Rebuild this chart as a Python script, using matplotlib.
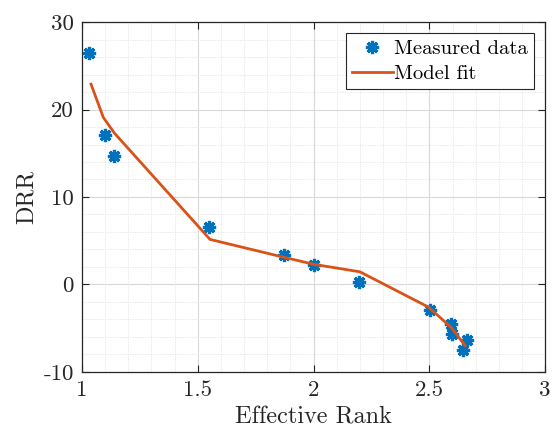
import numpy as np
import matplotlib
matplotlib.use("Agg")
import matplotlib.pyplot as plt
from matplotlib.ticker import MultipleLocator

plt.rcParams["font.family"] = ["cmr10", "DejaVu Serif"]
plt.rcParams["axes.unicode_minus"] = False
plt.rcParams["axes.formatter.use_mathtext"] = True

# measured points (effective rank vs DRR)
rank_meas = [1.03, 1.099, 1.138, 1.549, 1.873, 2.002, 2.195, 2.503, 2.594, 2.598, 2.647, 2.664]
drr_meas = [26.5, 17.1, 14.7, 6.55, 3.37, 2.25, 0.32, -2.9, -4.55, -5.7, -7.5, -6.4]

# model fit polyline
rank_fit = [1.039, 1.092, 1.14, 1.553, 1.873, 2.002, 2.2, 2.497, 2.594, 2.655]
drr_fit = [22.9, 19.1, 17.3, 5.15, 3.1, 2.3, 1.45, -2.6, -4.9, -7.0]

blue = "#0072BD"
orange = "#D95319"

fig = plt.figure(figsize=(5.54, 4.32), dpi=100)
ax = fig.add_axes([0.148, 0.139, 0.836, 0.810])

ax.plot(rank_meas, drr_meas, linestyle="", marker=(8, 2, 0), markersize=9.5,
        markeredgewidth=2.3, color=blue, label="Measured data", zorder=3)
ax.plot(rank_fit, drr_fit, color=orange, linewidth=2, label="Model fit", zorder=4)

ax.set_xlim(1, 3)
ax.set_ylim(-10, 30)
ax.xaxis.set_minor_locator(MultipleLocator(0.1))
ax.yaxis.set_minor_locator(MultipleLocator(2))
ax.set_xticks([1, 1.5, 2, 2.5, 3])
ax.set_xticklabels(["1", "1.5", "2", "2.5", "3"])
ax.set_yticks([-10, 0, 10, 20, 30])
ax.set_yticklabels(["-10", "0", "10", "20", "30"])

ax.grid(which="major", color="#d9d9d9", linewidth=0.8)
ax.grid(which="minor", color="#e3e3e3", linewidth=0.6, linestyle=(0, (1.5, 1.5)))
ax.set_axisbelow(True)

ax.tick_params(which="both", direction="in", top=True, right=True, colors="#262626",
               labelsize=16.5, pad=6)
ax.tick_params(which="major", length=5, width=0.8)
ax.tick_params(which="minor", length=0)
for s in ax.spines.values():
    s.set_color("#262626")
    s.set_linewidth(0.9)

ax.set_xlabel("Effective Rank", fontsize=17.5, color="#262626", labelpad=5)
ax.set_ylabel("DRR", fontsize=17.5, color="#262626", labelpad=4)

leg = ax.legend(loc="upper right", fontsize=14.8, frameon=True, fancybox=False,
                edgecolor="#262626", framealpha=1, borderpad=0.3, handlelength=2.0,
                handletextpad=0.05, borderaxespad=0.55, labelspacing=0.32)
leg.get_frame().set_linewidth(0.8)

fig.savefig("out.png", dpi=100)
